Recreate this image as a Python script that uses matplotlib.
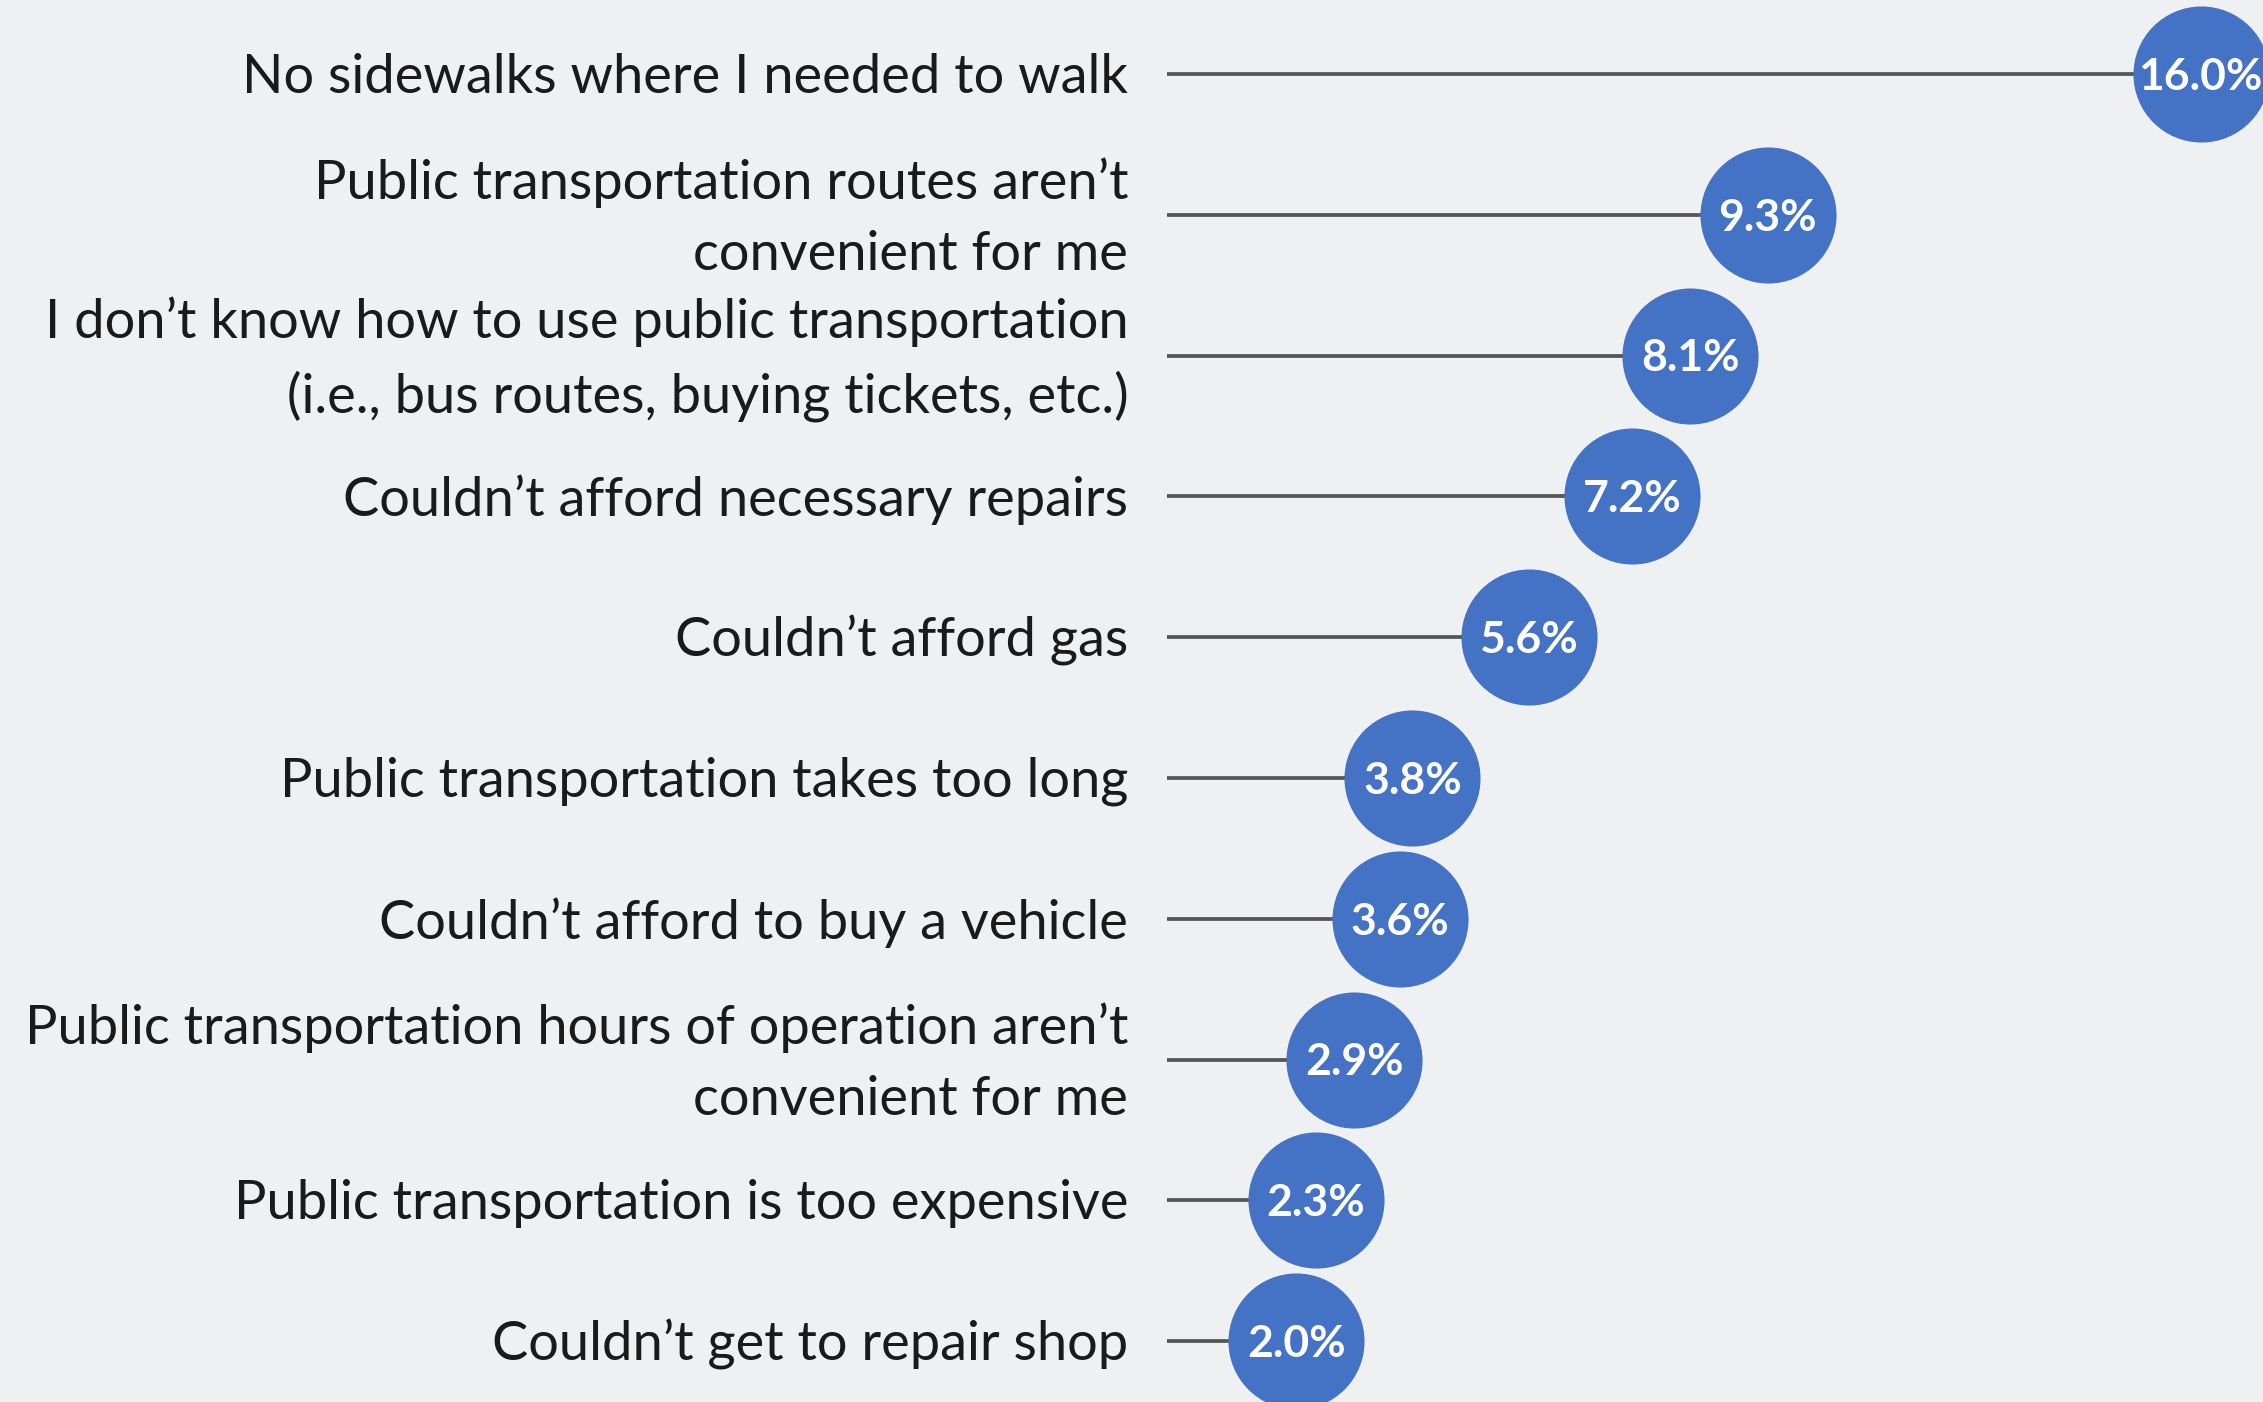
import matplotlib
matplotlib.use("Agg")
import matplotlib.pyplot as plt

BG = "#eff0f2"
DOT = "#4472c4"
STEM = "#555555"

labels = [
    "No sidewalks where I needed to walk",
    "Public transportation routes aren\u2019t\nconvenient for me",
    "I don\u2019t know how to use public transportation\n(i.e., bus routes, buying tickets, etc.)",
    "Couldn\u2019t afford necessary repairs",
    "Couldn\u2019t afford gas",
    "Public transportation takes too long",
    "Couldn\u2019t afford to buy a vehicle",
    "Public transportation hours of operation aren\u2019t\nconvenient for me",
    "Public transportation is too expensive",
    "Couldn\u2019t get to repair shop",
]
values = [16.0, 9.3, 8.1, 7.2, 5.6, 3.8, 3.6, 2.9, 2.3, 2.0]

W, H = 2263, 1402
fig = plt.figure(figsize=(W / 100, H / 100), dpi=100)
fig.patch.set_facecolor(BG)
ax = fig.add_axes([0, 0, 1, 1])
ax.set_facecolor(BG)
ax.axis("off")

# pixel layout: value 0 sits at x=1167, 1% = 64.6 px; rows 140.8 px apart from y=74
x0, kx = 1167, 64.6
y0, ky = 74, 140.8
ax.set_xlim(-x0 / kx, (W - x0) / kx)
ax.set_ylim((H - y0) / ky, -y0 / ky)

rows = list(range(len(values)))
ax.hlines(rows, 0.0, values, color=STEM, linewidth=2.7, zorder=1)
ax.scatter(values, rows, s=9600, color=DOT, zorder=2, linewidths=0)

for i, (lab, v) in enumerate(zip(labels, values)):
    ax.text(-0.6, i + 0.025, lab, ha="right", va="center", multialignment="right",
            fontsize=39, family="Lato", color="#1a1a1a", linespacing=1.55)
    ax.text(v, i + 0.02, f"{v:.1f}%", ha="center", va="center", fontsize=32,
            family="Lato", fontweight="bold", color="white", zorder=3)

fig.savefig("out.png", facecolor=BG)
